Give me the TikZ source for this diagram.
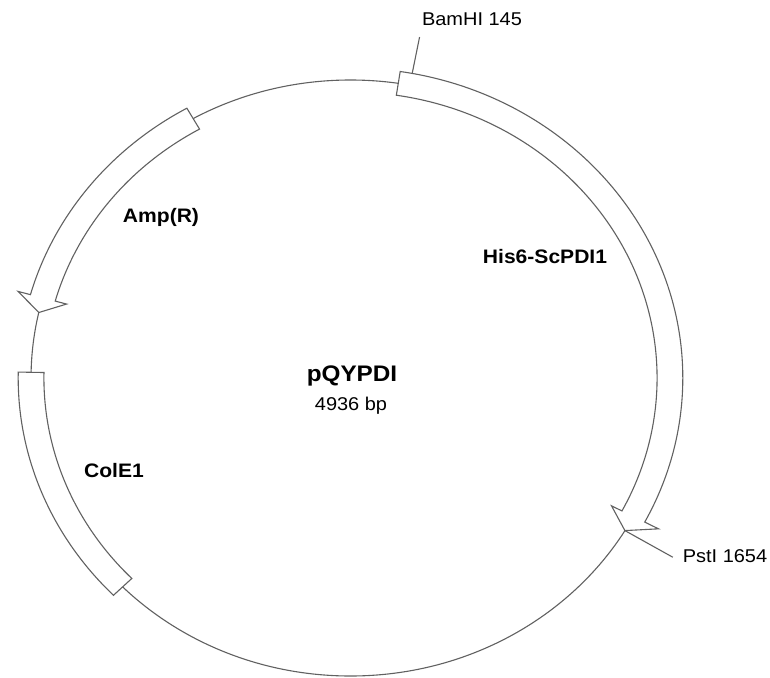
\documentclass[tikz,border=0pt]{standalone}
\usepackage{fontspec}
\setmainfont{Liberation Sans}[FakeStretch=1.08]
\begin{document}
\begin{tikzpicture}[x=1pt,y=1pt,
  ln/.style={draw=black!62, line width=1.1pt, line join=miter},
  feat/.style={ln, fill=white},
  lab/.style={font=\fontsize{19.5}{22}\selectfont\bfseries, inner sep=0, anchor=base},
  site/.style={font=\fontsize{18.5}{21}\selectfont, inner sep=0, anchor=base},
  ttl/.style={font=\fontsize{22.5}{25}\selectfont\bfseries, inner sep=0, anchor=base}]
\useasboundingbox[fill=white] (0,0) rectangle (770,-677);
\begin{scope}[shift={(350.5,-378)}, xscale=1.072]
  \draw[ln] (0,0) circle (298);
  % His6-ScPDI1 (clockwise)
  \draw[feat] (81.4:310) arc[start angle=81.4, end angle=-27.7, radius=310]
    -- (-27.7:324.5) -- (-30.8:298) -- (-27.7:275) -- (-27.7:286)
    arc[start angle=-27.7, end angle=81.4, radius=286] -- cycle;
  % Amp(R) (counterclockwise)
  \draw[feat] (119.5:310) arc[start angle=119.5, end angle=164.4, radius=310]
    -- (164.4:322) -- (167.3:298) -- (164.4:275) -- (164.4:286)
    arc[start angle=164.4, end angle=119.5, radius=286] -- cycle;
  % ColE1
  \draw[feat] (178.9:310) arc[start angle=178.9, end angle=224.5, radius=310]
    -- (224.5:286) arc[start angle=224.5, end angle=178.9, radius=286] -- cycle;
  \coordinate (bam1) at (79.3:310);
  \coordinate (bam2) at (79.3:347);
  \coordinate (pst1) at (-30.8:298);
  \coordinate (pst2) at (-30.8:350);
\end{scope}
\draw[ln] (bam1) -- (bam2);
\draw[ln] (pst1) -- (pst2);
\node[site] (bam) at (472,-26) {BamHI 145};
\node[site] (pst) at (725,-562) {PstI 1654};
\node[lab] (his) at (545,-263) {His6-ScPDI1};
\node[lab] (amp) at (161,-222) {Amp(R)};
\node[lab] (col) at (114,-477) {ColE1};
\node[ttl] (name) at (352,-381) {pQYPDI};
\node[site] (bp) at (351,-410) {4936 bp};
\end{tikzpicture}
\end{document}
